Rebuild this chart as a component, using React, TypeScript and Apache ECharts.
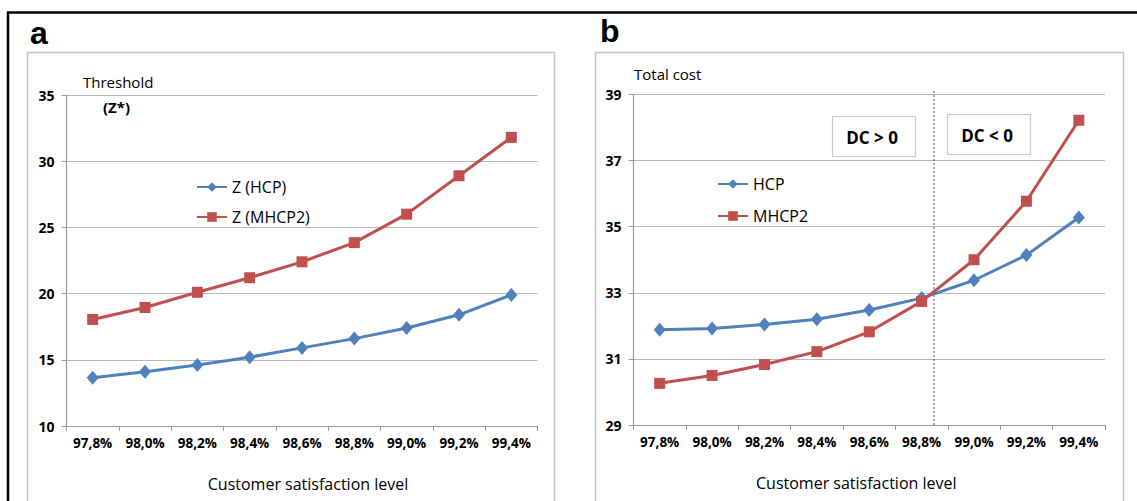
import React, { useEffect, useRef } from "react";
import * as echarts from "echarts";

// Customer satisfaction levels (%)
const levels = [97.8, 98.0, 98.2, 98.4, 98.6, 98.8, 99.0, 99.2, 99.4];
const categories = levels.map((v) => v.toFixed(1).replace(".", ",") + "%");

// Panel a: threshold Z*
const zHCP = [13.65, 14.1, 14.6, 15.2, 15.9, 16.6, 17.4, 18.4, 19.9];
const zMHCP2 = [18.05, 18.95, 20.1, 21.2, 22.4, 23.85, 26.0, 28.9, 31.8];

// Panel b: total cost
const costHCP = [31.88, 31.92, 32.04, 32.2, 32.48, 32.84, 33.38, 34.14, 35.28];
const costMHCP2 = [30.26, 30.5, 30.83, 31.22, 31.82, 32.74, 34.0, 35.77, 38.22];

// Level where DC changes sign
const breakEvenLevel = 98.847;

const yTicksA = { min: 10, max: 35, interval: 5 };
const yTicksB = { min: 29, max: 39, interval: 2 };

const BLUE = "#4F81BD";
const RED = "#C0504D";
const FONT = "'Open Sans', 'DejaVu Sans', sans-serif";

export default function App() {
  const ref = useRef<HTMLDivElement>(null);
  useEffect(() => {
    if (!ref.current) return;
    const chart = echarts.init(ref.current, null, { renderer: "svg" });
    const step = levels[1] - levels[0];
    const breakPos = (breakEvenLevel - levels[0]) / step + 0.5;

    const xAxisBase = (gridIndex: number, namePadding: number[]) => ({
      type: "category",
      gridIndex,
      data: categories,
      boundaryGap: true,
      name: "Customer satisfaction level",
      nameLocation: "middle",
      nameGap: 50,
      nameTextStyle: { fontFamily: FONT, fontSize: 16, color: "#000", padding: namePadding },
      axisLine: { lineStyle: { color: "#9a9a9a", width: 1.2 } },
      axisTick: { show: true, length: 5, interval: 0, lineStyle: { color: "#9a9a9a" } },
      axisLabel: {
        interval: 0,
        fontFamily: FONT,
        fontSize: 13.5,
        fontWeight: "bold",
        color: "#000",
        margin: 10,
      },
    });
    const yAxisBase = (gridIndex: number, t: { min: number; max: number; interval: number }) => ({
      type: "value",
      gridIndex,
      min: t.min,
      max: t.max,
      interval: t.interval,
      axisLine: { show: true, lineStyle: { color: "#9a9a9a", width: 1.2 } },
      axisTick: { show: true, length: 5, lineStyle: { color: "#9a9a9a" } },
      axisLabel: { fontFamily: FONT, fontSize: 14, fontWeight: "bold", color: "#000", margin: 12 },
      splitLine: { show: true, lineStyle: { color: "#b8b8b8", width: 1.2 } },
    });
    const lineSeries = (name: string, data: number[], color: string, symbol: string, size: any, idx: number) => ({
      type: "line",
      name,
      data,
      xAxisIndex: idx,
      yAxisIndex: idx,
      symbol,
      symbolSize: size,
      lineStyle: { color, width: 3 },
      itemStyle: { color },
    });
    const legendBase = {
      orient: "vertical",
      itemWidth: 30,
      itemHeight: 12,
      textStyle: { fontFamily: FONT, fontSize: 16, color: "#000" },
    };

    chart.setOption({
      animation: false,
      backgroundColor: "#fff",
      grid: [
        { left: 66.5, right: 1137 - 537.5, top: 95, bottom: 501 - 426 },
        { left: 633.5, right: 1137 - 1105, top: 94.5, bottom: 501 - 425 },
      ],
      xAxis: [
        xAxisBase(0, [0, 0, 0, 12]),
        xAxisBase(1, [0, 26, 0, 0]),
        { type: "value", gridIndex: 1, min: 0, max: levels.length, show: false },
      ],
      yAxis: [yAxisBase(0, yTicksA), yAxisBase(1, yTicksB)],
      legend: [
        { ...legendBase, data: ["Z (HCP)", "Z (MHCP2)"], left: 191, top: 174, itemGap: 14 },
        { ...legendBase, data: ["HCP", "MHCP2"], left: 712, top: 171, itemGap: 16 },
      ],
      series: [
        lineSeries("Z (HCP)", zHCP, BLUE, "diamond", [12, 14], 0),
        lineSeries("Z (MHCP2)", zMHCP2, RED, "rect", 11, 0),
        lineSeries("HCP", costHCP, BLUE, "diamond", [12, 14], 1),
        lineSeries("MHCP2", costMHCP2, RED, "rect", 11, 1),
        {
          type: "line",
          name: "DC boundary",
          xAxisIndex: 2,
          yAxisIndex: 1,
          data: [
            [breakPos, yTicksB.min],
            [breakPos, yTicksB.max + 0.12],
          ],
          symbol: "none",
          clip: false,
          silent: true,
          lineStyle: { color: "#555", width: 1, type: [2, 2] },
          z: 1,
        },
      ],
      graphic: [
        { type: "line", shape: { x1: 7, y1: 12.5, x2: 1137, y2: 12.5 }, style: { stroke: "#000", lineWidth: 2.5 } },
        { type: "line", shape: { x1: 8, y1: 12, x2: 8, y2: 501 }, style: { stroke: "#000", lineWidth: 2.5 } },
        { type: "rect", shape: { x: 27.5, y: 52.5, width: 527, height: 470 }, style: { fill: "none", stroke: "#c4c4c4", lineWidth: 1.5 } },
        { type: "rect", shape: { x: 595.5, y: 52.5, width: 528, height: 470 }, style: { fill: "none", stroke: "#c4c4c4", lineWidth: 1.5 } },
        { type: "text", left: 30, top: 17, style: { text: "a", font: "bold 32px 'Liberation Sans', Arial, sans-serif", fill: "#000" } },
        { type: "text", left: 600, top: 15, style: { text: "b", font: "bold 32px 'Liberation Sans', Arial, sans-serif", fill: "#000" } },
        { type: "text", x: 83, y: 82, style: { text: "Threshold", font: `15px ${FONT}`, fill: "#000", verticalAlign: "middle" } },
        { type: "text", x: 103, y: 107, style: { text: "(Z*)", font: `bold 15px ${FONT}`, fill: "#000", verticalAlign: "middle" } },
        { type: "text", x: 634, y: 74, style: { text: "Total cost", font: `15px ${FONT}`, fill: "#000", verticalAlign: "middle" } },
        { type: "rect", shape: { x: 832.5, y: 116.5, width: 83, height: 40 }, style: { fill: "#fff", stroke: "#c8c8c8", lineWidth: 1.2 } },
        { type: "text", x: 872, y: 137, style: { text: "DC > 0", font: `bold 17px ${FONT}`, fill: "#000", align: "center", verticalAlign: "middle" } },
        { type: "rect", shape: { x: 947.5, y: 114.5, width: 83, height: 40 }, style: { fill: "#fff", stroke: "#c8c8c8", lineWidth: 1.2 } },
        { type: "text", x: 987, y: 135, style: { text: "DC < 0", font: `bold 17px ${FONT}`, fill: "#000", align: "center", verticalAlign: "middle" } },
      ],
    });
    return () => chart.dispose();
  }, []);
  return (
    <div
      ref={ref}
      style={{ position: "fixed", left: 0, top: 0, width: 1137, height: 501, background: "#fff" }}
    />
  );
}
